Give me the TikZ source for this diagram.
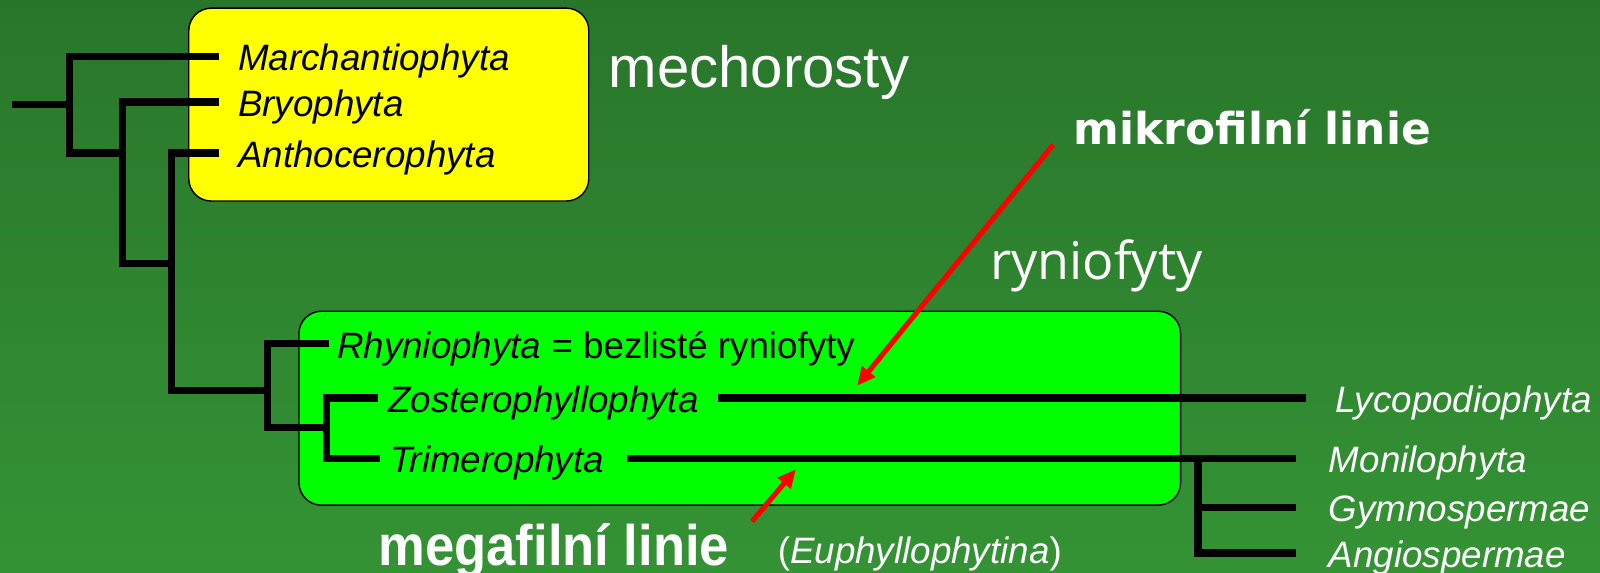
\documentclass[tikz,border=0pt]{standalone}
\usepackage{fontspec}
\setmainfont{Liberation Sans}
\newfontfamily\openfont{Open Sans}
\newfontfamily\dejavufont{DejaVu Sans}
\newfontfamily\narrowfont[FakeStretch=0.92]{Liberation Sans}
\usetikzlibrary{arrows.meta,positioning}
\definecolor{bgtop}{RGB}{41,118,43}
\definecolor{bgbot}{RGB}{52,147,52}
\definecolor{mossyellow}{RGB}{255,255,0}
\definecolor{rhygreen}{RGB}{0,255,0}
\definecolor{arrowred}{RGB}{255,0,0}

\begin{document}
\begin{tikzpicture}[x=0.5pt,y=-0.5pt]
\tikzset{branch/.style={line width=3.5pt,black,line join=miter}}
\tikzset{taxon/.style={anchor=west,inner xsep=9pt,inner ysep=0pt,
font=\fontsize{18}{20}\selectfont\itshape,text height=14pt,text depth=0pt}}
\tikzset{crown/.style={taxon,text=white,inner xsep=16pt}}
\tikzset{groupbox/.style={draw=black,line width=0.7pt,rounded corners=11pt,inner sep=0pt}}
\tikzset{grouplabel/.style={anchor=base west,inner sep=0pt,text=white}}
\tikzset{lineage/.style={text=white,inner ysep=1.5pt}}
\tikzset{pointer/.style={draw=arrowred,line width=2.5pt,-{Triangle[length=9pt,width=8pt]}}}

\useasboundingbox (0,0) rectangle (1568,561.5);
\shade[top color=bgtop,bottom color=bgbot] (0,0) rectangle (1568,561.5);

% skupiny
\node[groupbox,fill=mossyellow,minimum width=196pt,minimum height=94.5pt] (mossbox) at (381,102.5) {};
\node[groupbox,fill=rhygreen,minimum width=432pt,minimum height=95pt] (rhybox) at (725,400) {};

% taxony
\node[taxon] (mar) at (215,55) {Marchantiophyta};
\node[taxon] (bry) at (215,100) {Bryophyta};
\node[taxon] (ant) at (215,150) {Anthocerophyta};
\node[taxon,inner xsep=4pt] (rhy) at (322,337) {Rhyniophyta\/ {\upshape = bezlisté ryniofyty}};
\node[taxon,inner xsep=5pt] (zos) at (370,390) {Zosterophyllophyta};
\node[taxon,inner xsep=5pt] (tri) at (372,449) {Trimerophyta};
\node[crown,inner xsep=14pt] (lyc) at (1280,390) {Lycopodiophyta};
\node[crown] (mon) at (1270,449) {Monilophyta};
\node[crown] (gym) at (1270,497) {Gymnospermae};
\node[crown] (ang) at (1270,542) {Angiospermae};

% strom
\coordinate (root) at (12,102);
\coordinate (j1) at (68,102);
\coordinate (j2) at (120,150);
\coordinate (j3) at (168,258);
\coordinate (j4) at (262,383);
\coordinate (j5) at (320,419);
\coordinate (j6) at (1174,449);
\draw[branch] (root) -- (j1);
\draw[branch] (mar.west) -| (j1) |- (j2);
\draw[branch] (bry.west) -| (j2) |- (j3);
\draw[branch] (ant.west) -| (j3) |- (j4);
\draw[branch] (rhy.west) -| (j4) |- (j5);
\draw[branch] (zos.west) -| (j5) |- (tri.west);
\draw[branch,shorten <=4.5pt] (zos.east) -- (lyc.west);
\draw[branch,shorten <=6pt] (tri.east) -- (mon.west);
\draw[branch] (j6) |- (gym.west);
\draw[branch] (j6) |- (ang.west);

% popisky
\node[grouplabel,font=\fontsize{28.5}{30}\selectfont] (mech) at (596,86) {mechorosty};
\node[grouplabel,font=\openfont\fontsize{25.5}{28}\selectfont] (ryn) at (970,274) {ryniofyty};
\node[lineage,anchor=base west,inner xsep=10pt,font=\dejavufont\fontsize{21.5}{24}\selectfont\bfseries] (mik) at (1032,142) {mikrofilní linie};
\node[lineage,anchor=north east,inner xsep=11pt,text height=20pt,text depth=0pt,
font=\narrowfont\fontsize{28}{30}\selectfont\bfseries] (meg) at (737,511) {megafilní linie};
\node[grouplabel,font=\fontsize{18}{20}\selectfont] (eup) at (762,552) {(\textit{Euphyllophytina})};

\coordinate (miktip) at (840,378);
\coordinate (megtip) at (780,460);
\draw[pointer] (mik.base west) -- (miktip);
\draw[pointer] (meg.north east) -- (megtip);
\end{tikzpicture}
\end{document}
